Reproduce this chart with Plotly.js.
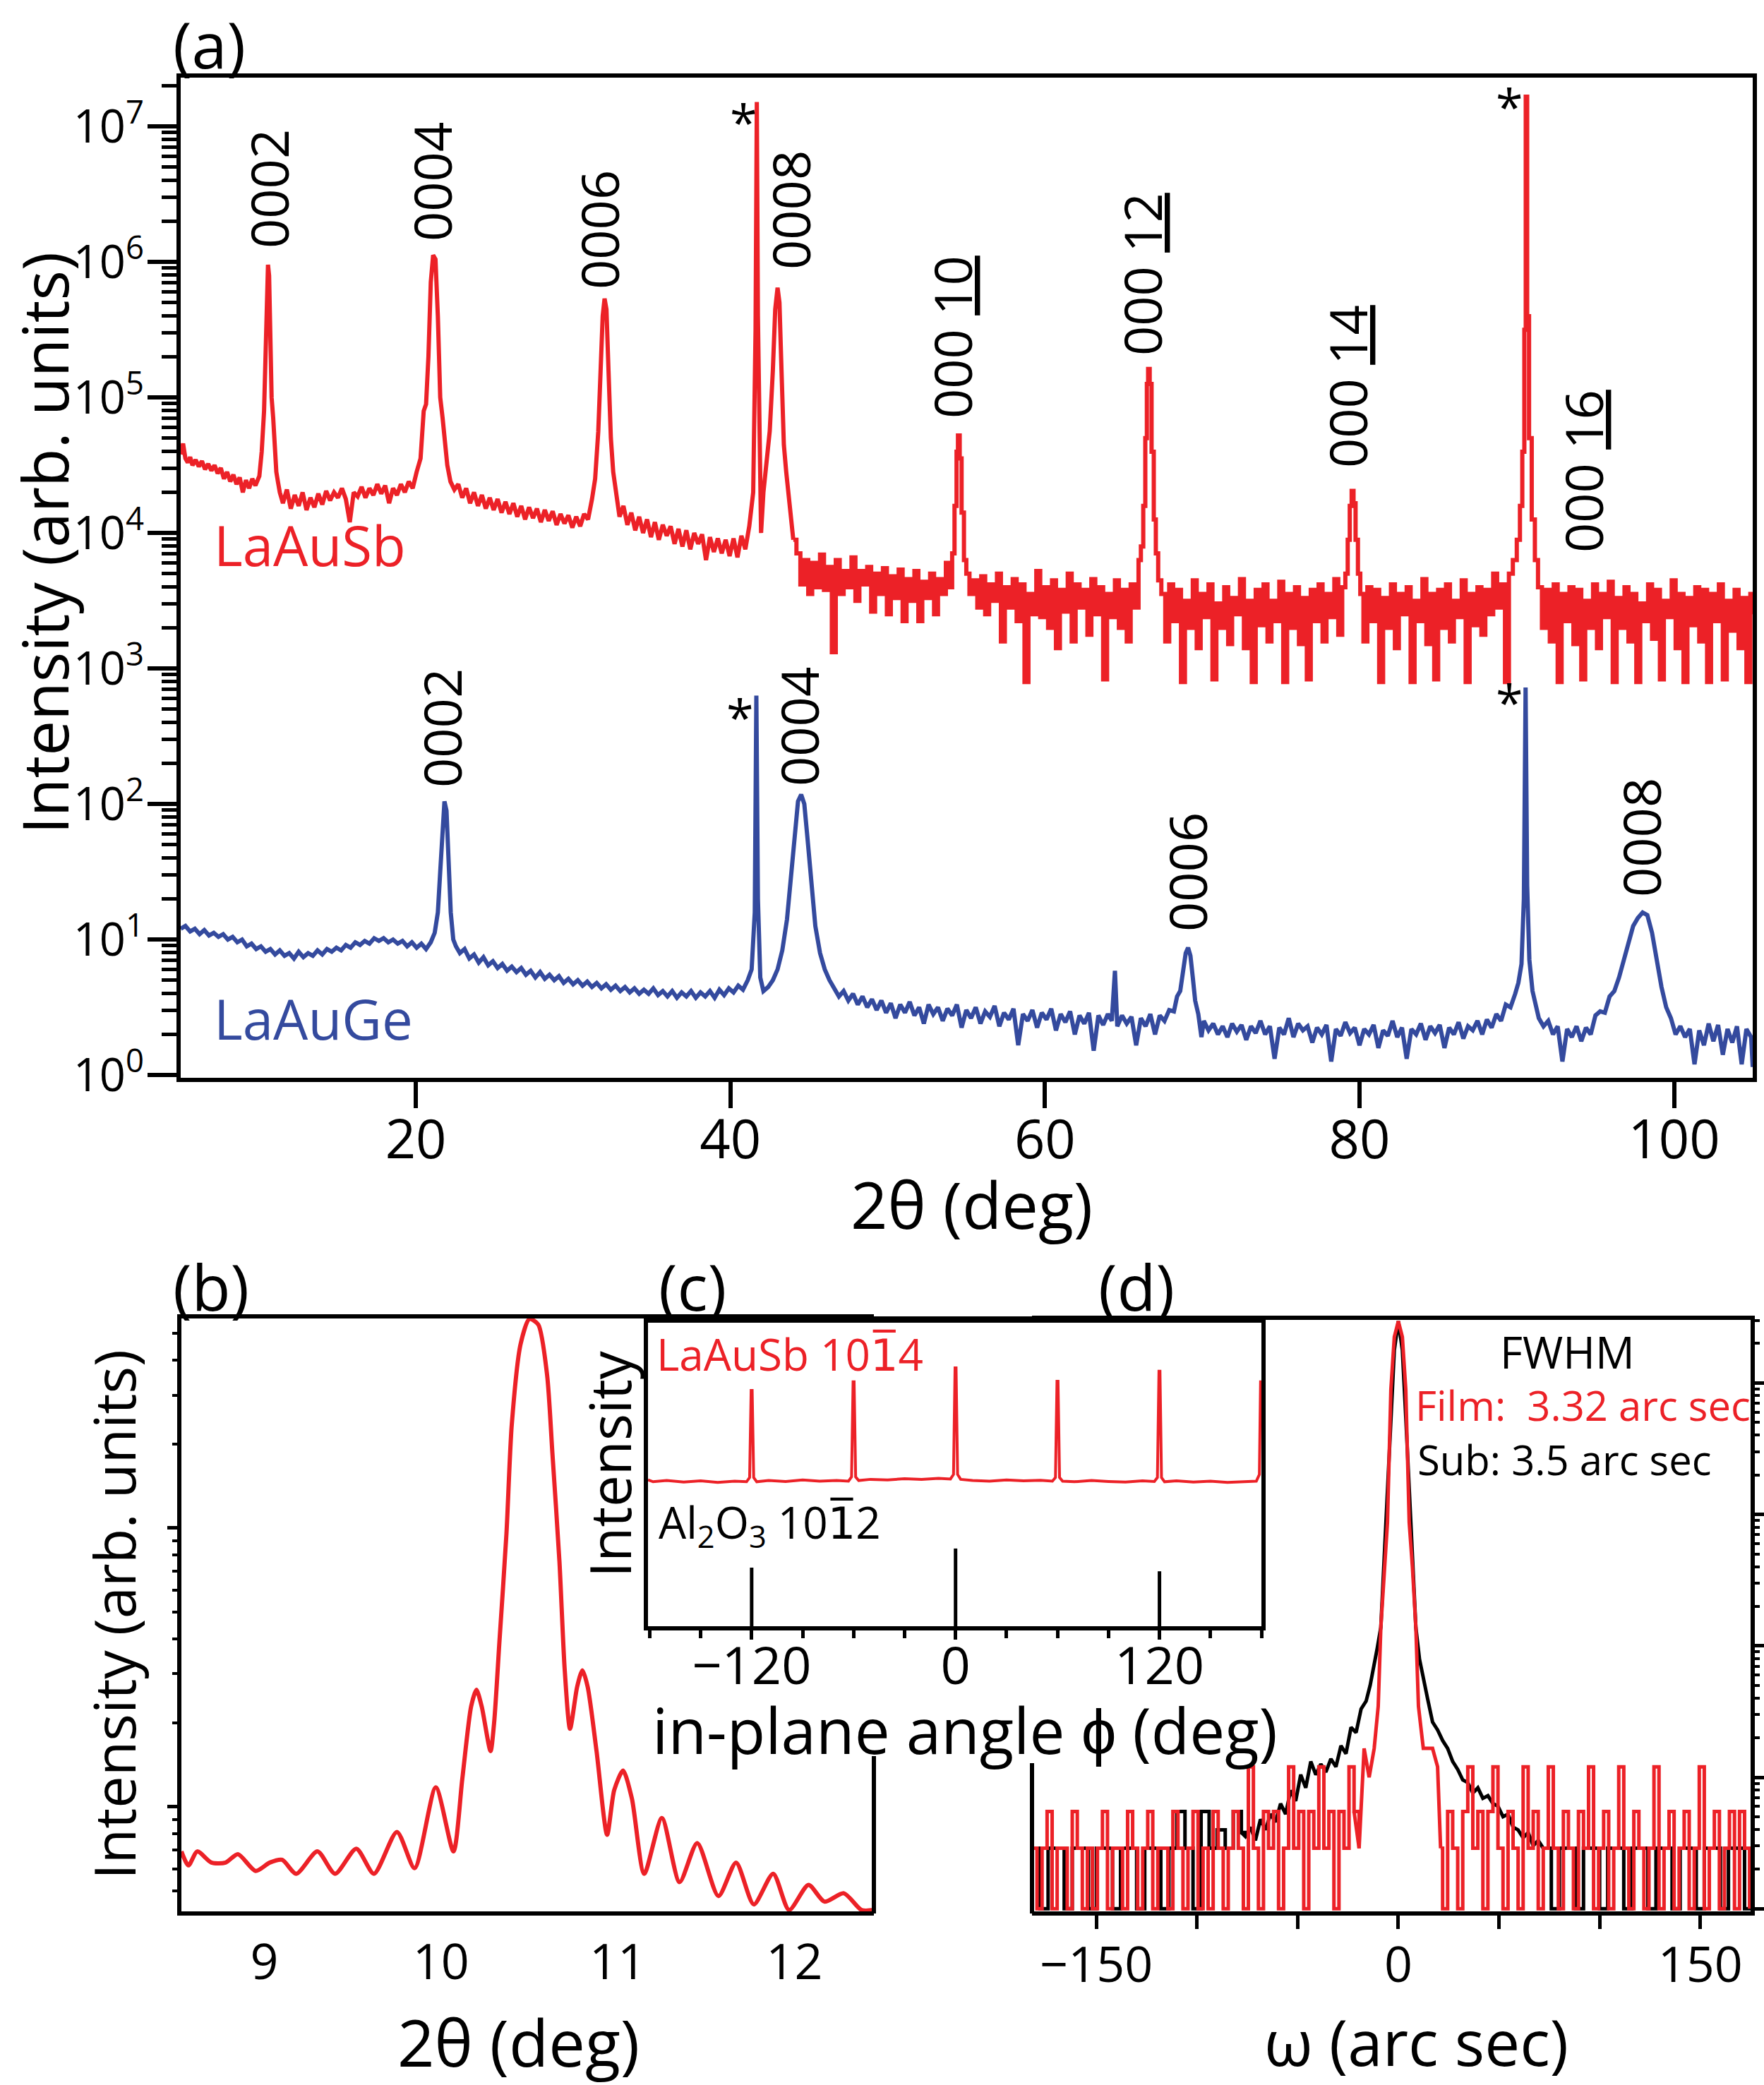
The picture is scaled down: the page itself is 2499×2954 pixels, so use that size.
<!DOCTYPE html>
<html><head><meta charset="utf-8">
<script src="https://cdn.plot.ly/plotly-3.0.1.min.js"></script>
<style>html,body{margin:0;padding:0;background:#fff}</style>
</head><body>
<div id="chart" style="width:2499px;height:2954px"></div>
<script>
// ===================== DATA =====================
// (a) LaAuSb 2theta scan: [2theta (deg), log10 intensity]
const sbScan = [
[5.05,4.58],[5.2,4.66],[5.35,4.55],[5.5,4.52],[5.65,4.56],[5.8,4.50],[6.0,4.54],[6.2,4.49],[6.4,4.53],[6.6,4.47],[6.8,4.51],[7.0,4.46],[7.2,4.50],[7.4,4.44],[7.6,4.48],[7.8,4.40],[8.0,4.45],[8.2,4.38],[8.4,4.43],[8.6,4.36],[8.8,4.41],[9.0,4.30],[9.2,4.39],[9.4,4.33],[9.6,4.40],[9.8,4.35],
[10.05,4.42],[10.2,4.6],[10.35,4.9],[10.45,5.4],[10.53,5.85],[10.6,5.98],[10.67,5.9],[10.75,5.5],[10.83,5.0],[10.93,4.85],[11.03,4.6],[11.13,4.45],[11.23,4.38],
[11.35,4.30],[11.55,4.22],[11.8,4.32],[12.05,4.18],[12.3,4.28],[12.55,4.20],[12.8,4.30],[13.05,4.17],[13.3,4.26],[13.55,4.19],[13.8,4.29],[14.05,4.21],[14.3,4.31],[14.55,4.24],[14.8,4.30],[15.05,4.26],[15.3,4.33],[15.55,4.25],[15.8,4.08],[16.05,4.30],[16.3,4.27],[16.55,4.34],[16.8,4.26],[17.05,4.33],[17.3,4.28],[17.55,4.36],[17.8,4.29],[18.05,4.35],[18.3,4.22],[18.55,4.33],[18.8,4.28],[19.05,4.36],[19.3,4.30],[19.55,4.38],[19.8,4.33],[20.05,4.45],
[20.3,4.55],[20.5,4.9],[20.65,4.95],[20.8,5.3],[20.95,5.85],[21.1,6.05],[21.25,6.02],[21.4,5.6],[21.55,5.0],[21.7,4.85],[21.85,4.7],[22.0,4.5],[22.2,4.38],
[22.45,4.32],[22.7,4.36],[22.95,4.26],[23.2,4.33],[23.45,4.22],[23.7,4.30],[23.95,4.20],[24.2,4.28],[24.45,4.18],[24.7,4.26],[24.95,4.17],[25.2,4.25],[25.45,4.15],[25.7,4.23],[25.95,4.14],[26.2,4.22],[26.45,4.12],[26.7,4.20],[26.95,4.10],[27.2,4.19],[27.45,4.11],[27.7,4.18],[27.95,4.08],[28.2,4.17],[28.45,4.09],[28.7,4.16],[28.95,4.06],[29.2,4.14],[29.45,4.07],[29.7,4.13],[29.95,4.04],[30.2,4.12],[30.45,4.05],[30.7,4.14],[30.95,4.10],[31.2,4.25],
[31.4,4.4],[31.6,4.75],[31.75,5.2],[31.88,5.6],[32.0,5.73],[32.12,5.65],[32.25,5.2],[32.4,4.7],[32.55,4.45],[32.75,4.3],
[32.95,4.12],[33.2,4.20],[33.45,4.06],[33.7,4.15],[33.95,4.02],[34.2,4.12],[34.45,4.00],[34.7,4.10],[34.95,3.97],[35.2,4.08],[35.45,3.95],[35.7,4.06],[35.95,3.98],[36.2,4.05],[36.45,3.92],[36.7,4.03],[36.95,3.90],[37.2,4.02],[37.45,3.88],[37.7,4.00],[37.95,3.92],[38.2,3.99],[38.45,3.80],[38.7,3.97],[38.95,3.86],[39.2,3.96],[39.45,3.85],[39.7,3.95],[39.95,3.83],[40.2,3.96],[40.45,3.82],[40.7,3.98],[40.95,3.88],[41.2,4.05],
[41.45,4.3],[41.6,5.5],[41.68,7.18],[41.75,5.6],[41.85,4.5],[41.95,4.0],[42.1,4.3],
[42.3,4.5],[42.5,4.75],[42.7,5.2],[42.85,5.65],[43.0,5.81],[43.12,5.7],[43.25,5.2],[43.4,4.65],[43.55,4.45],[43.7,4.3],[43.85,4.1],[44.0,3.95],
[44.2,3.85],[44.45,3.62],[44.7,3.80],[44.95,3.55],[45.2,3.78],[45.45,3.60],[45.7,3.84],[45.95,3.58],[46.2,3.75],[46.45,3.12],[46.7,3.80],[46.95,3.55],[47.2,3.72],[47.45,3.60],[47.7,3.82],[47.95,3.50],[48.2,3.72],[48.45,3.62],[48.7,3.75],[48.95,3.42],[49.2,3.70],[49.45,3.55],[49.7,3.74],[49.95,3.40],[50.2,3.68],[50.45,3.52],[50.7,3.73],[50.95,3.35],[51.2,3.66],[51.45,3.50],[51.7,3.72],[51.95,3.35],[52.2,3.64],[52.45,3.52],[52.7,3.70],[52.95,3.40],[53.2,3.66],[53.45,3.55],[53.7,3.78],[53.95,3.60],
[54.1,3.85],[54.25,4.2],[54.38,4.6],[54.47,4.72],[54.58,4.55],[54.7,4.15],[54.85,3.8],[55.0,3.7],
[55.2,3.55],[55.45,3.65],[55.7,3.45],[55.95,3.68],[56.2,3.40],[56.45,3.62],[56.7,3.50],[56.95,3.70],[57.2,3.20],[57.45,3.60],[57.7,3.45],[57.95,3.66],[58.2,3.35],[58.45,3.62],[58.7,2.90],[58.95,3.55],[59.2,3.40],[59.45,3.72],[59.7,3.38],[59.95,3.60],[60.2,3.30],[60.45,3.65],[60.7,3.15],[60.95,3.58],[61.2,3.42],[61.45,3.70],[61.7,3.20],[61.95,3.62],[62.2,3.45],[62.45,3.58],[62.7,3.25],[62.95,3.66],[63.2,3.40],[63.45,3.60],[63.7,2.92],[63.95,3.55],[64.2,3.38],[64.45,3.65],[64.7,3.30],[64.95,3.58],[65.2,3.20],[65.45,3.62],[65.7,3.45],[65.95,3.80],
[66.1,3.9],[66.25,4.2],[66.38,4.7],[66.48,5.1],[66.56,5.21],[66.66,5.1],[66.78,4.6],[66.92,4.1],[67.05,3.85],[67.2,3.65],
[67.4,3.55],[67.65,3.20],[67.9,3.62],[68.15,3.35],[68.4,3.58],[68.65,2.90],[68.9,3.50],[69.15,3.30],[69.4,3.65],[69.65,3.15],[69.9,3.55],[70.15,3.38],[70.4,3.62],[70.65,2.92],[70.9,3.48],[71.15,3.30],[71.4,3.60],[71.65,3.18],[71.9,3.52],[72.15,3.40],[72.4,3.66],[72.65,3.15],[72.9,3.50],[73.15,2.90],[73.4,3.58],[73.65,3.32],[73.9,3.62],[74.15,3.20],[74.4,3.50],[74.65,3.35],[74.9,3.64],[75.15,2.90],[75.4,3.55],[75.65,3.30],[75.9,3.60],[76.15,3.18],[76.4,3.52],[76.65,2.92],[76.9,3.58],[77.15,3.35],[77.4,3.62],[77.65,3.20],[77.9,3.55],[78.15,3.38],[78.4,3.66],[78.65,3.25],[78.9,3.60],
[79.1,3.7],[79.25,3.95],[79.38,4.2],[79.5,4.31],[79.62,4.22],[79.75,3.95],[79.9,3.7],[80.05,3.55],
[80.25,3.20],[80.5,3.60],[80.75,3.35],[81.0,3.58],[81.25,2.90],[81.5,3.52],[81.75,3.30],[82.0,3.62],[82.25,3.15],[82.5,3.55],[82.75,3.40],[83.0,3.60],[83.25,2.90],[83.5,3.50],[83.75,3.35],[84.0,3.66],[84.25,3.18],[84.5,3.55],[84.75,2.92],[85.0,3.58],[85.25,3.30],[85.5,3.62],[85.75,3.20],[86.0,3.50],[86.25,3.38],[86.5,3.65],[86.75,2.90],[87.0,3.55],[87.25,3.32],[87.5,3.60],[87.75,3.25],[88.0,3.58],[88.25,3.40],[88.5,3.70],[88.75,3.45],[89.0,3.62],[89.25,2.90],[89.5,3.70],[89.75,3.80],[90.0,3.95],[90.2,4.2],
[90.35,4.6],[90.48,5.5],[90.57,7.22],[90.66,5.6],[90.78,4.7],[90.95,4.1],[91.15,3.8],[91.35,3.6],
[91.6,3.30],[91.85,3.58],[92.1,3.20],[92.35,3.62],[92.6,2.90],[92.85,3.55],[93.1,3.35],[93.35,3.60],[93.6,3.18],[93.85,3.58],[94.1,2.92],[94.35,3.50],[94.6,3.30],[94.85,3.62],[95.1,3.15],[95.35,3.55],[95.6,3.38],[95.85,3.64],[96.1,2.90],[96.35,3.52],[96.6,3.30],[96.85,3.60],[97.1,3.20],[97.35,3.55],[97.6,2.90],[97.85,3.48],[98.1,3.35],[98.35,3.62],[98.6,3.22],[98.85,3.58],[99.1,2.92],[99.35,3.50],[99.6,3.38],[99.85,3.65],[100.1,3.15],[100.35,3.55],[100.6,2.90],[100.85,3.52],[101.1,3.32],[101.35,3.60],[101.6,3.20],[101.85,3.58],[102.1,2.90],[102.35,3.55],[102.6,3.35],[102.85,3.62],[103.1,2.92],[103.35,3.50],[103.6,3.28],[103.85,3.58],[104.1,3.15],[104.35,3.52],[104.6,2.90],[104.85,3.55],[105.0,3.40]
];

// (a) LaAuGe 2theta scan: [2theta (deg), log10 intensity]
const geScan = [
[5.05,1.08],[5.35,1.10],[5.65,1.06],[5.95,1.08],[6.25,1.04],[6.55,1.07],[6.85,1.03],[7.15,1.05],[7.45,1.02],[7.75,1.04],[8.05,1.00],[8.35,1.02],[8.65,0.98],[8.95,1.00],[9.25,0.95],[9.55,0.97],[9.85,0.93],[10.15,0.95],[10.45,0.91],[10.75,0.93],[11.05,0.89],[11.35,0.92],[11.65,0.88],[11.95,0.90],[12.25,0.86],[12.55,0.91],[12.85,0.87],[13.15,0.90],[13.45,0.88],[13.75,0.92],[14.05,0.89],[14.35,0.93],[14.65,0.91],[14.95,0.94],[15.25,0.92],[15.55,0.96],[15.85,0.94],[16.15,0.98],[16.45,0.96],[16.75,0.99],[17.05,0.97],[17.35,1.01],[17.65,0.99],[17.95,1.01],[18.25,0.98],[18.55,1.00],[18.85,0.97],[19.15,0.99],[19.45,0.95],[19.75,0.98],[20.05,0.94],[20.35,0.97],[20.65,0.93],[20.95,0.98],[21.2,1.05],
[21.4,1.2],[21.55,1.5],[21.7,1.85],[21.82,2.02],[21.95,1.95],[22.08,1.6],[22.22,1.2],[22.38,1.0],[22.55,0.95],
[22.8,0.90],[23.1,0.93],[23.4,0.86],[23.7,0.89],[24.0,0.83],[24.3,0.87],[24.6,0.81],[24.9,0.84],[25.2,0.79],[25.5,0.82],[25.8,0.77],[26.1,0.80],[26.4,0.76],[26.7,0.79],[27.0,0.74],[27.3,0.77],[27.6,0.72],[27.9,0.76],[28.2,0.71],[28.5,0.74],[28.8,0.70],[29.1,0.73],[29.4,0.68],[29.7,0.71],[30.0,0.67],[30.3,0.70],[30.6,0.66],[30.9,0.69],[31.2,0.65],[31.5,0.68],[31.8,0.64],[32.1,0.67],[32.4,0.63],[32.7,0.66],[33.0,0.62],[33.3,0.65],[33.6,0.61],[33.9,0.64],[34.2,0.60],[34.5,0.63],[34.8,0.60],[35.1,0.64],[35.4,0.59],[35.7,0.62],[36.0,0.58],[36.3,0.62],[36.6,0.57],[36.9,0.61],[37.2,0.58],[37.5,0.62],[37.8,0.57],[38.1,0.61],[38.4,0.58],[38.7,0.62],[39.0,0.57],[39.3,0.63],[39.6,0.59],[39.9,0.64],[40.2,0.61],[40.5,0.66],[40.8,0.63],[41.1,0.70],[41.35,0.78],
[41.55,1.2],[41.65,2.80],[41.75,1.3],[41.9,0.72],[42.1,0.62],
[42.4,0.65],[42.7,0.70],[43.0,0.78],[43.3,0.92],[43.6,1.15],[43.85,1.45],[44.1,1.8],[44.3,2.02],[44.5,2.07],[44.7,2.0],[44.9,1.75],[45.15,1.4],[45.4,1.1],[45.7,0.9],[46.0,0.78],[46.3,0.70],
[46.6,0.64],[46.9,0.58],[47.2,0.62],[47.5,0.55],[47.8,0.60],[48.1,0.52],[48.4,0.58],[48.7,0.50],[49.0,0.56],[49.3,0.48],[49.6,0.55],[49.9,0.46],[50.2,0.53],[50.5,0.42],[50.8,0.52],[51.1,0.46],[51.4,0.54],[51.7,0.44],[52.0,0.50],[52.3,0.38],[52.6,0.52],[52.9,0.45],[53.2,0.50],[53.5,0.40],[53.8,0.49],[54.1,0.44],[54.4,0.52],[54.7,0.35],[55.0,0.48],[55.3,0.42],[55.6,0.50],[55.9,0.38],[56.2,0.47],[56.5,0.43],[56.8,0.51],[57.1,0.36],[57.4,0.46],[57.7,0.41],[58.0,0.49],[58.3,0.22],[58.6,0.45],[58.9,0.40],[59.2,0.48],[59.5,0.35],[59.8,0.46],[60.1,0.41],[60.4,0.49],[60.7,0.33],[61.0,0.45],[61.3,0.39],[61.6,0.47],[61.9,0.30],[62.2,0.44],[62.5,0.38],[62.8,0.46],[63.1,0.18],[63.4,0.44],[63.7,0.37],[64.0,0.45],[64.25,0.40],[64.45,0.77],[64.6,0.36],[64.9,0.44],[65.2,0.38],[65.5,0.43],[65.8,0.22],[66.1,0.42],[66.4,0.36],[66.7,0.45],[67.0,0.30],[67.3,0.44],[67.6,0.40],[67.9,0.48],[68.2,0.47],
[68.4,0.58],[68.6,0.62],[68.8,0.78],[68.95,0.9],[69.1,0.94],[69.25,0.88],[69.4,0.72],[69.55,0.55],[69.75,0.45],[69.95,0.28],
[70.1,0.40],[70.4,0.33],[70.7,0.38],[71.0,0.30],[71.3,0.36],[71.6,0.28],[71.9,0.38],[72.2,0.32],[72.5,0.37],[72.8,0.26],[73.1,0.36],[73.4,0.31],[73.7,0.40],[74.0,0.30],[74.3,0.36],[74.6,0.12],[74.9,0.35],[75.2,0.30],[75.5,0.42],[75.8,0.28],[76.1,0.38],[76.4,0.33],[76.7,0.36],[77.0,0.24],[77.3,0.35],[77.6,0.30],[77.9,0.37],[78.2,0.10],[78.5,0.34],[78.8,0.29],[79.1,0.39],[79.4,0.31],[79.7,0.35],[80.0,0.22],[80.3,0.34],[80.6,0.30],[80.9,0.37],[81.2,0.20],[81.5,0.33],[81.8,0.29],[82.1,0.40],[82.4,0.28],[82.7,0.35],[83.0,0.12],[83.3,0.34],[83.6,0.30],[83.9,0.38],[84.2,0.26],[84.5,0.36],[84.8,0.31],[85.1,0.37],[85.4,0.20],[85.7,0.35],[86.0,0.30],[86.3,0.39],[86.6,0.27],[86.9,0.36],[87.2,0.33],[87.5,0.40],[87.8,0.30],[88.1,0.41],[88.4,0.35],[88.7,0.45],[89.0,0.40],[89.3,0.52],[89.6,0.50],[89.9,0.60],
[90.1,0.68],[90.3,0.82],[90.45,1.3],[90.56,2.86],[90.66,1.4],[90.8,0.85],[91.0,0.62],[91.2,0.52],
[91.4,0.42],[91.7,0.36],[92.0,0.40],[92.3,0.30],[92.6,0.36],[92.9,0.10],[93.2,0.34],[93.5,0.28],[93.8,0.36],[94.1,0.25],[94.4,0.35],[94.7,0.30],[95.0,0.44],
[95.3,0.47],[95.6,0.46],[95.9,0.58],[96.2,0.62],[96.5,0.72],[96.8,0.85],[97.1,1.0],[97.4,1.1],[97.7,1.16],[98.0,1.20],[98.3,1.18],[98.6,1.05],[98.9,0.85],[99.2,0.65],[99.5,0.50],[99.8,0.42],
[100.1,0.30],[100.4,0.36],[100.7,0.28],[101.0,0.34],[101.3,0.08],[101.6,0.33],[101.9,0.22],[102.2,0.38],[102.5,0.25],[102.8,0.37],[103.1,0.15],[103.4,0.34],[103.7,0.24],[104.0,0.36],[104.3,0.08],[104.6,0.34],[104.9,0.28],[105.0,0.06]
];

// (a) peak labels
const sbPeakNames = ['0002','0004','0006','0008','000 <u>10</u>','000 <u>12</u>','000 <u>14</u>','000 <u>16</u>'];
const gePeakNames = ['0002','0004','0006','0008'];
const substrateMark = '*';

// (b) LaAuSb 0002 with thickness fringes: [2theta (deg), log10 intensity (arb.)]
const fringeScan = [
[8.53,-0.16],[8.57,-0.21],[8.62,-0.16],[8.7,-0.20],[8.78,-0.20],[8.85,-0.17],[8.95,-0.23],[9.03,-0.20],[9.1,-0.19],[9.18,-0.24],[9.3,-0.16],[9.4,-0.24],[9.52,-0.15],[9.62,-0.24],[9.75,-0.09],[9.85,-0.22],[9.97,0.07],[10.07,-0.16],[10.12,0.10],[10.17,0.36],[10.2,0.42],[10.23,0.36],[10.28,0.20],[10.3,0.30],[10.33,0.59],[10.37,0.98],[10.4,1.37],[10.45,1.66],[10.5,1.75],[10.55,1.73],[10.6,1.55],[10.63,1.27],[10.67,0.88],[10.7,0.49],[10.73,0.28],[10.77,0.43],[10.8,0.49],[10.83,0.43],[10.88,0.20],[10.94,-0.10],[10.98,0.06],[11.03,0.13],[11.08,0.03],[11.15,-0.24],[11.25,-0.04],[11.35,-0.27],[11.45,-0.13],[11.57,-0.32],[11.67,-0.20],[11.77,-0.35],[11.88,-0.24],[11.97,-0.37],[12.08,-0.28],[12.17,-0.34],[12.28,-0.31],[12.38,-0.37],[12.45,-0.37]
];

// (c) phi scans: LaAuSb 10-14 film (linear, arb.)
const phiFilm = [
[-181,4.82],[-178,4.76],[-170,4.80],[-160,4.75],[-150,4.79],[-140,4.74],[-130,4.78],[-123,4.76],[-121.2,4.9],[-120.3,7.77],[-119.7,7.77],[-118.8,4.9],[-117,4.76],[-110,4.80],[-100,4.77],[-90,4.82],[-80,4.78],[-70,4.80],[-63,4.78],[-61.2,4.92],[-60.3,8.05],[-59.7,8.05],[-58.8,4.92],[-57,4.80],[-50,4.84],[-40,4.82],[-30,4.86],[-20,4.84],[-10,4.87],[-3,4.85],[-1.2,5.0],[-0.3,8.51],[0.3,8.51],[1.2,5.0],[3,4.84],[10,4.80],[20,4.78],[30,4.82],[40,4.79],[50,4.81],[57,4.78],[58.8,4.9],[59.7,8.07],[60.3,8.07],[61.2,4.9],[63,4.78],[70,4.76],[80,4.80],[90,4.77],[100,4.75],[110,4.79],[117,4.77],[118.8,4.9],[119.7,8.40],[120.3,8.40],[121.2,4.9],[123,4.76],[130,4.79],[140,4.75],[150,4.78],[160,4.74],[170,4.77],[177,4.78],[178.8,5.0],[179.5,8.05],[180,8.05]
];
// (c) Al2O3 10-12 substrate reflections
const phiSubAngles = [-120, 0, 120];
const phiSubHeights = [1.93, 2.56, 1.81];

// (d) rocking curves: [omega (arc sec), log10 intensity]
const filmRock = [
[-182,0.46],[-179.5,0.0],[-177,0.46],[-174.5,0.74],[-172,0.0],[-169.5,0.46],[-167,0.46],[-164.5,0.0],[-162,0.74],[-159.5,0.46],[-157,0.0],[-154.5,0.46],[-152,0.0],[-149.5,0.46],[-147,0.74],[-144.5,0.0],[-142,0.46],[-139.5,0.46],[-137,0.0],[-134.5,0.74],[-132,0.46],[-129.5,0.0],[-127,0.46],[-124.5,0.74],[-122,0.0],[-119.5,0.46],[-117,0.46],[-114.5,0.0],[-112,0.74],[-109.5,0.46],[-107,0.0],[-104.5,0.46],[-102,0.74],[-99.5,0.0],[-97,0.46],[-94.5,0.0],[-92,0.74],[-89.5,0.46],[-87,0.0],[-84.5,0.46],[-82,0.74],[-79.5,0.46],[-77,0.0],[-74.5,1.08],[-72,0.46],[-69.5,0.0],[-67,0.74],[-64.5,0.46],[-62,0.74],[-59.5,0.0],[-57,0.46],[-54.5,1.08],[-52,0.46],[-49.5,0.74],[-47,0.0],[-44.5,0.74],[-42,0.46],[-39.5,1.08],[-37,0.46],[-34.5,0.74],[-32,0.0],[-29.5,0.74],[-27,0.46],[-24.5,1.08],[-22,0.74],
[-19.5,0.46],[-17,1.22],[-14.5,1.0],[-12,1.22],[-10,1.54],[-8.7,2.14],[-7,2.6],[-5.4,2.94],[-3.7,3.95],[-2,4.35],[0,4.47],[2,4.35],[3.7,3.95],[5.4,2.94],[7,2.6],[8.7,2.14],[10,1.54],[12.4,1.22],[14.5,1.22],[17,1.22],[19.5,1.08],[21,0.46],
[22,0.0],[24.5,0.74],[27,0.46],[29.5,0.0],[32,0.74],[34.5,1.08],[37,0.46],[39.5,0.74],[42,0.0],[44.5,0.74],[47,1.08],[49.5,0.46],[52,0.0],[54.5,0.74],[57,0.46],[59.5,0.0],[62,1.08],[64.5,0.46],[67,0.74],[69.5,0.0],[72,0.46],[74.5,1.08],[77,0.46],[79.5,0.0],[82,0.74],[84.5,0.46],[87,0.0],[89.5,0.74],[92,0.46],[94.5,1.08],[97,0.0],[99.5,0.46],[102,0.74],[104.5,0.0],[107,0.46],[109.5,1.08],[112,0.46],[114.5,0.0],[117,0.74],[119.5,0.46],[122,0.0],[124.5,0.46],[127,1.08],[129.5,0.0],[132,0.46],[134.5,0.74],[137,0.0],[139.5,0.46],[142,0.74],[144.5,0.0],[147,0.46],[149.5,1.08],[152,0.0],[154.5,0.46],[157,0.74],[159.5,0.0],[162,0.46],[164.5,0.74],[167,0.0],[169.5,0.74],[172,0.46],[174.5,0.0]
];
const subRock = [
[-182,0.46],[-178,0.0],[-174,0.46],[-170,0.46],[-166,0.0],[-162,0.46],[-158,0.46],[-154,0.0],[-150,0.46],[-146,0.46],[-142,0.0],[-138,0.46],[-134,0.46],[-130,0.0],[-126,0.46],[-122,0.46],[-118,0.0],[-114,0.46],[-110,0.74],[-106,0.46],[-102,0.0],[-98,0.74],[-94,0.46],[-90,0.60],[-86,0.46],[-82,0.74],[-78,0.58],
[-76,0.55],[-73.5,0.62],[-71,0.52],[-68.5,0.68],[-66,0.60],[-63.5,0.72],[-61,0.66],[-58.5,0.80],[-56,0.72],[-53.5,0.90],[-51,0.82],[-48.5,1.02],[-46,0.92],[-43.5,1.12],[-41,1.02],[-38.5,1.10],[-36,1.04],[-33.5,1.14],[-31,1.08],[-28.5,1.24],[-26,1.18],[-23.5,1.38],[-21,1.34],[-18.5,1.52],[-16,1.58],[-14,1.70],[-12.4,1.82],[-10.5,1.98],[-8.7,2.14],[-7.5,2.5],[-6.2,2.94],[-5,3.35],[-3.7,3.74],[-2,4.25],[0,4.47],[2,4.25],[3.7,3.74],[5,3.35],[6.2,2.94],[7.5,2.5],[8.7,2.14],[10.5,1.9],[12.4,1.74],[14.5,1.6],[17,1.42],[19.5,1.36],[22,1.28],[24.5,1.22],[27,1.12],[29.5,1.06],[32,0.98],[34.5,0.96],[37,0.88],[39.5,0.92],[42,0.84],[44.5,0.86],[47,0.80],[49.5,0.78],[52,0.70],[54.5,0.72],[57,0.62],[59.5,0.60],[62,0.54],[64.5,0.58],[67,0.48],[69.5,0.52],[72,0.46],
[76,0.0],[80,0.46],[84,0.46],[88,0.0],[92,0.46],[96,0.46],[100,0.0],[104,0.46],[108,0.46],[112,0.0],[116,0.46],[120,0.46],[124,0.0],[128,0.46],[132,0.46],[136,0.0],[140,0.46],[144,0.46],[148,0.0],[152,0.46],[156,0.46],[160,0.0],[164,0.46],[168,0.46],[172,0.0],[175,0.46]
];

// (a) y tick decades
const decadeExps = [0,1,2,3,4,5,6,7];

// ===================== PLOT =====================
const W = 2499, H = 2954;
const PX = v => v / W;
const PY = v => 1 - v / H;
const RED = '#EC2127', BLUE = '#344A9E', BLACK = '#000000';
const FONT = 'Open Sans, sans-serif';
const OVER1 = '<span style="font-family:DejaVu Sans">1\u0305</span>';
const exp10 = v => Math.pow(10, v);

// helper: make a line trace from a subset of [x, log10 y] pairs
function logTrace(pairs, lo, hi, ax, ay, color, width, shape) {
  const sel = pairs.filter(p => p[0] >= lo && p[0] <= hi);
  return {x: sel.map(p => p[0]), y: sel.map(p => exp10(p[1])), xaxis: ax, yaxis: ay, mode: 'lines',
          line: {color: color, width: width, shape: shape}};
}

const traces = [
  logTrace(sbScan, -1e9, 44.0, 'x', 'y', RED, 6, 'linear'),
  logTrace(sbScan, 44.0, 1e9, 'x', 'y', RED, 6, 'hv'),
  logTrace(geScan, -1e9, 1e9, 'x', 'y', BLUE, 6, 'linear'),
  {x: fringeScan.map(p => p[0]), y: fringeScan.map(p => exp10(p[1])), xaxis:'x2', yaxis:'y2', mode:'lines',
   line:{color:RED, width:6, shape:'spline', smoothing:0.7}},
  logTrace(subRock, -1e9, -76, 'x3', 'y3', BLACK, 5, 'hv'),
  logTrace(subRock, -78, 72, 'x3', 'y3', BLACK, 5, 'linear'),
  logTrace(subRock, 72, 1e9, 'x3', 'y3', BLACK, 5, 'hv'),
  logTrace(filmRock, -1e9, -19.5, 'x3', 'y3', RED, 5, 'hv'),
  logTrace(filmRock, -22, 21, 'x3', 'y3', RED, 5, 'linear'),
  logTrace(filmRock, 21, 1e9, 'x3', 'y3', RED, 5, 'hv')
];
// (c)
const stX = [], stY = [];
phiSubAngles.forEach((p, i) => { stX.push(p, p, null); stY.push(0, phiSubHeights[i], null); });
traces.push({x: phiFilm.map(p => p[0]), y: phiFilm.map(p => p[1]), xaxis:'x4', yaxis:'y4', mode:'lines', line:{color:RED, width:4}});
traces.push({x: stX, y: stY, xaxis:'x4', yaxis:'y4', mode:'lines', line:{color:BLACK, width:5}});

const minorLog = [];
decadeExps.forEach(e => { for (let m = 2; m <= 9; m++) minorLog.push(m * Math.pow(10, e)); });

const axBase = {showline:true, linecolor:BLACK, linewidth:6, showgrid:false, zeroline:false, ticks:'outside', tickcolor:BLACK, tickwidth:6, tickfont:{family:FONT, size:70, color:BLACK}};

const layout = {
  width: W, height: H, margin:{l:0, r:0, t:0, b:0},
  paper_bgcolor:'#ffffff', plot_bgcolor:'#ffffff', showlegend:false,
  font:{family:FONT, color:BLACK},
  xaxis: Object.assign({}, axBase, {domain:[PX(256), PX(2483)], range:[5.05, 105.0], anchor:'y', mirror:true, dtick:20, tick0:0, ticklen:37,
          ticklabelstandoff:-20, tickfont:{family:FONT, size:76, color:BLACK}}),
  yaxis: Object.assign({}, axBase, {domain:[PY(1527), PY(110)], type:'log', range:[-0.02, 7.36], anchor:'x', mirror:true, ticklen:41,
          tickmode:'array', tickvals: decadeExps.map(e => Math.pow(10, e)), ticktext: decadeExps.map(e => '10<sup>' + e + '</sup>'),
          ticklabelstandoff:-8, tickfont:{family:FONT, size:65, color:BLACK},
          minor:{tickmode:'array', tickvals:minorLog, ticks:'outside', ticklen:21, tickwidth:5, tickcolor:BLACK, showgrid:false}}),
  xaxis2: Object.assign({}, axBase, {domain:[PX(257), PX(1238)], range:[8.53, 12.45], anchor:'y2', mirror:true, dtick:1, tick0:0, ticks:'',
          ticklabelstandoff:6, tickfont:{family:FONT, size:70, color:BLACK}}),
  yaxis2: Object.assign({}, axBase, {domain:[PY(2708), PY(1868)], type:'log', range:[-0.375, 1.752], anchor:'x2', mirror:false, dtick:1, ticklen:14, tickwidth:5, showticklabels:false,
          minor:{dtick:'D1', ticks:'outside', ticklen:7, tickwidth:4, tickcolor:BLACK, showgrid:false}}),
  xaxis3: Object.assign({}, axBase, {domain:[PX(1462), PX(2480)], range:[-182, 175], anchor:'y3', mirror:true, dtick:150, tick0:0, ticklen:19, tickwidth:5,
          ticklabelstandoff:-9, tickfont:{family:FONT, size:70, color:BLACK},
          minor:{dtick:50, tick0:0, ticks:'outside', ticklen:19, tickwidth:5, tickcolor:BLACK, showgrid:false}}),
  yaxis3: Object.assign({}, axBase, {domain:[PY(2708), PY(1870)], type:'log', range:[-0.02, 4.48], anchor:'x3', side:'right', mirror:false, dtick:1, ticklen:14, tickwidth:5, showticklabels:false,
          minor:{dtick:'D1', ticks:'outside', ticklen:7, tickwidth:4, tickcolor:BLACK, showgrid:false}}),
  xaxis4: Object.assign({}, axBase, {domain:[PX(918), PX(1787)], range:[-181, 180], anchor:'y4', mirror:true, dtick:120, tick0:0, ticklen:13, tickwidth:5,
          ticklabelstandoff:-26, tickfont:{family:FONT, size:74, color:BLACK},
          minor:{dtick:30, tick0:0, ticks:'outside', ticklen:11, tickwidth:5, tickcolor:BLACK, showgrid:false}}),
  yaxis4: Object.assign({}, axBase, {domain:[PY(2304), PY(1874)], range:[0, 10], anchor:'x4', mirror:true, ticks:'', showticklabels:false}),
  shapes: [
    {type:'line', xref:'paper', yref:'paper', x0:PX(1238), x1:PX(1238), y0:PY(2488), y1:PY(2711), line:{color:BLACK, width:6}},
    {type:'line', xref:'paper', yref:'paper', x0:PX(1462), x1:PX(1462), y0:PY(2498), y1:PY(2711), line:{color:BLACK, width:6}},
    {type:'line', xref:'paper', yref:'paper', x0:PX(1236), x1:PX(1464), y0:PY(1868), y1:PY(1868), line:{color:BLACK, width:6}}
  ],
  annotations: []
};

function txt(text, x, y, size, opt) {
  opt = opt || {};
  layout.annotations.push({text:text, xref:'paper', yref:'paper', x:PX(x), y:PY(y), showarrow:false,
    xanchor: opt.xa || 'center', yanchor: opt.ya || 'middle', textangle: opt.angle || 0,
    font:{family:FONT, size:size, color: opt.color || BLACK}});
}

// panel letters
txt('(a)', 296, 62, 90);
txt('(b)', 299, 1822, 90);
txt('(c)', 981, 1822, 90);
txt('(d)', 1610, 1822, 90);

// (a) titles and sample names
txt('2θ (deg)', 1376, 1706, 92);
txt('Intensity (arb. units)', 62, 770, 89, {angle:-90});
txt('LaAuSb', 301, 772, 78, {xa:'left', color:RED});
txt('LaAuGe', 301, 1443, 78, {xa:'left', color:BLUE});

// (a) peak labels
const sbLabelPos = [[381,268],[611,258],[849,326],[1120,298],[1348,478],[1617,389],[1908,548],[2243,668]];
sbPeakNames.forEach((t, i) => txt(t, sbLabelPos[i][0], sbLabelPos[i][1], 74, {angle:-90}));
const geLabelPos = [[625,1032],[1131,1030],[1681,1236],[2324,1187]];
gePeakNames.forEach((t, i) => txt(t, geLabelPos[i][0], geLabelPos[i][1], 74, {angle:-90}));
[[1053,172],[2138,150],[1048,1015],[2138,994]].forEach(p => txt(substrateMark, p[0], p[1], 70));

// (b)
txt('Intensity (arb. units)', 160, 2288, 81, {angle:-90});
txt('2θ (deg)', 734, 2892, 92);

// (c)
txt('Intensity', 862, 2074, 80, {angle:-90});
txt('in-plane angle ϕ (deg)', 1367, 2450, 89);
txt('LaAuSb 10' + OVER1 + '4', 928, 1918, 62, {xa:'left', color:RED});
txt('Al<sub>2</sub>O<sub>3</sub> 10' + OVER1 + '2', 931, 2160, 62, {xa:'left'});

// (d)
txt('FWHM', 2220, 1915, 62);
txt('Film:  3.32 arc sec', 2003, 1990, 58, {xa:'left', color:RED});
txt('Sub: 3.5 arc sec', 2006, 2067, 58, {xa:'left'});
txt('ω (arc sec)', 2006, 2892, 89);

Plotly.newPlot('chart', traces, layout, {staticPlot:true, displayModeBar:false});
</script>
</body></html>
